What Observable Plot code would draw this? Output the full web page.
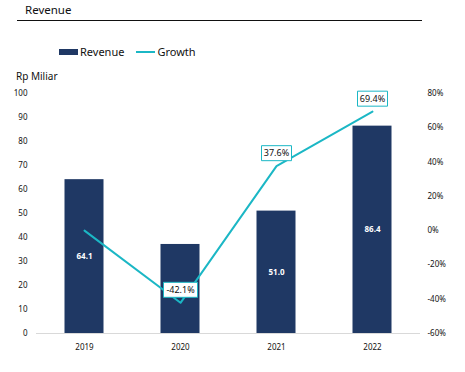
<!DOCTYPE html>
<html>
<head>
<meta charset="utf-8">
<script src="https://cdn.jsdelivr.net/npm/d3@7"></script>
<script src="https://cdn.jsdelivr.net/npm/@observablehq/plot@0.6"></script>
<style>
  html, body { margin: 0; padding: 0; background: #fff; }
  body { font-family: "Noto Sans", sans-serif; }
  #wrap { position: relative; width: 465px; height: 372px; overflow: hidden; }
  #chart { position: absolute; left: 0; top: 0; }
  .title { position: absolute; left: 25px; top: 2px; font-size: 11.5px; color: #111; }
  .rule { position: absolute; left: 17px; top: 20px; width: 405px; height: 1px; background: #111; }
  .legend { position: absolute; left: 59px; top: 44px; font-size: 11px; color: #111; display: flex; align-items: center; }
  .sw-bar { width: 19px; height: 6px; background: #1F3864; margin-right: 2px; }
  .sw-line { width: 19px; height: 2px; background: #1BB7C5; margin-left: 12px; margin-right: 2px; }
  .ylab { position: absolute; left: 16px; top: 69px; font-size: 10px; color: #111; }
</style>
</head>
<body>
<div id="wrap">
  <div id="chart"></div>
  <div class="title">Revenue</div>
  <div class="rule"></div>
  <div class="legend"><span class="sw-bar"></span><span>Revenue</span><span class="sw-line"></span><span>Growth</span></div>
  <div class="ylab">Rp Miliar</div>
</div>
<script>
const years = ["2019", "2020", "2021", "2022"];
const revenue = [64.1, 37.1, 51.0, 86.4];
const growth = [0, -42.1, 37.6, 69.4];
const showRevenueLabel = [true, false, true, true];
const showGrowthLabel = [false, true, true, true];
const leftTicks = [0, 10, 20, 30, 40, 50, 60, 70, 80, 90, 100];
const rightTicks = [-60, -40, -20, 0, 20, 40, 60, 80];

const navy = "#1F3864";
const teal = "#1BB7C5";

// growth (-60..80 %) mapped onto the revenue axis (0..100)
const toRev = g => (g + 60) * 100 / 140;
const fromRev = v => v * 140 / 100 - 60;

const data = years.map((year, i) => ({
  year, rev: revenue[i], growth: growth[i], showRev: showRevenueLabel[i], show: showGrowthLabel[i]
}));
const labelled = data.filter(d => d.show);
const revLabelled = data.filter(d => d.showRev);
const gFmt = d => d.growth.toFixed(1) + "%";

// rectangular label box symbol; r encodes text length
const boxSymbol = {
  draw(context, size) {
    const len = Math.sqrt(size / Math.PI);
    const w = 4 * len + 10, h = 15;
    context.rect(-w / 2, -h / 2, w, h);
  }
};

const chart = Plot.plot({
  width: 465,
  height: 372,
  marginTop: 93,
  marginBottom: 39,
  marginLeft: 36,
  marginRight: 45,
  style: { fontFamily: "Noto Sans, sans-serif", background: "transparent" },
  x: { domain: years, padding: 0, label: null },
  y: { domain: [0, 100], label: null },
  r: { type: "identity" },
  marks: [
    Plot.ruleY([0], { stroke: "#d9d9d9", strokeWidth: 1 }),
    Plot.barY(data, { x: "year", y: "rev", fill: navy, insetLeft: 28.5, insetRight: 28.5 }),
    Plot.text(revLabelled, { x: "year", y: d => d.rev / 2, text: d => d.rev.toFixed(1), fill: "white", fontWeight: "bold", fontSize: 8 }),
    Plot.line(data, { x: "year", y: d => toRev(d.growth), stroke: teal, strokeWidth: 2 }),
    Plot.dot(labelled, { x: "year", y: d => toRev(d.growth), r: d => gFmt(d).length, symbol: boxSymbol, fill: "white", stroke: teal, strokeWidth: 1, dy: -13 }),
    Plot.text(labelled, { x: "year", y: d => toRev(d.growth), text: gFmt, fill: "#111", fontSize: 9, dy: -13 }),
    Plot.axisY({ ticks: leftTicks, tickSize: 0, tickPadding: 9, fontSize: 8, label: null, fill: "#111" }),
    Plot.axisY({ anchor: "right", ticks: rightTicks.map(toRev), tickFormat: v => Math.round(fromRev(v)) + "%", tickSize: 0, tickPadding: 7, fontSize: 8, label: null, fill: "#111" }),
    Plot.axisX({ tickSize: 0, tickPadding: 11, fontSize: 8, label: null, fill: "#111" })
  ]
});
document.getElementById("chart").appendChild(chart);
</script>
</body>
</html>
